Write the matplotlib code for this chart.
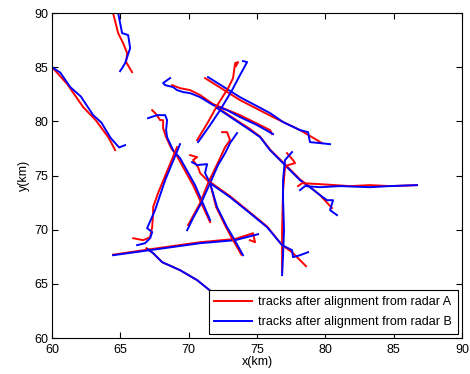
import matplotlib
matplotlib.use('Agg')
import matplotlib.pyplot as plt

plt.rcParams['font.family'] = ['Liberation Sans', 'DejaVu Sans']

# tracks from radar A (red) / radar B (blue) in km
a1x = [64.46, 64.83, 65.19, 65.49, 65.41, 65.85]
a1y = [90.0, 88.15, 87.23, 86.31, 85.48, 84.55]
b1x = [64.83, 65.12, 65.56, 65.71, 65.49, 65.34, 65.12, 64.97]
b1y = [90.0, 88.15, 87.97, 86.77, 85.94, 85.38, 84.92, 84.64]

a2x = [60.0, 61.10, 62.27, 63.20, 64.10, 64.30, 64.61]
a2y = [85.0, 83.45, 81.32, 80.10, 78.55, 78.10, 77.35]
b2x = [60.0, 60.60, 61.32, 62.10, 63.0, 63.60, 64.24, 64.40, 64.75, 64.90, 65.34]
b2y = [85.0, 84.50, 83.17, 82.30, 80.58, 79.90, 78.55, 78.30, 77.81, 77.60, 77.81]

a3x = [68.78, 69.36, 70.10, 70.83, 71.78, 73.75, 75.95, 76.10]
a3y = [83.35, 83.07, 82.89, 82.43, 81.60, 80.58, 79.20, 78.83]
b3x = [68.63, 68.12, 68.27, 68.85, 69.14, 69.58, 70.10, 70.83, 71.78, 72.80, 73.75, 75.0, 76.17]
b3y = [84.0, 83.54, 83.35, 83.17, 82.89, 82.71, 82.61, 82.24, 81.51, 81.04, 80.40, 79.66, 78.83]

a4x = [71.19, 73.75, 76.17, 78.14, 79.02, 79.75]
a4y = [84.0, 81.97, 80.40, 79.20, 78.55, 78.0]
b4x = [71.41, 73.75, 75.95, 76.90, 78.14, 78.73, 78.87, 79.61, 80.34]
b4y = [84.09, 82.24, 80.77, 79.94, 79.20, 79.01, 78.09, 78.0, 77.90]

a5x = [70.61, 71.41, 72.14, 72.88, 73.24, 73.32, 73.39, 73.61, 73.45]
a5y = [78.27, 79.94, 81.60, 83.07, 84.0, 84.74, 85.38, 85.48, 85.10]
b5x = [70.68, 71.56, 72.29, 73.17, 73.75, 74.27, 73.97]
b5y = [78.09, 79.66, 81.04, 82.89, 84.28, 85.48, 85.57]

a6x = [72.0, 73.39, 74.48, 75.22, 75.95, 77.04, 78.14, 78.87, 79.61, 80.48]
a6y = [81.35, 80.20, 79.30, 78.60, 77.40, 76.05, 74.65, 73.95, 73.20, 72.0]
b6x = [72.07, 73.39, 74.48, 75.22, 75.95, 77.04, 78.14, 78.87, 79.61, 80.12, 80.56, 80.34, 80.85]
b6y = [81.23, 80.12, 79.20, 78.55, 77.35, 75.97, 74.58, 73.93, 73.19, 72.73, 72.73, 71.81, 71.35]

a7x = [77.19, 77.63, 77.78, 77.26, 77.04, 76.90, 76.83, 76.83]
a7y = [77.07, 76.43, 76.15, 75.97, 75.69, 73.66, 69.96, 66.09]
b7x = [77.56, 77.04, 76.90, 76.90, 76.97, 76.90, 76.83]
b7y = [77.17, 76.43, 74.58, 72.73, 69.96, 67.65, 65.81]

a8x = [78.0, 78.29, 79.61, 81.80, 83.26, 84.73, 86.70]
a8y = [74.03, 74.30, 74.21, 74.03, 74.12, 74.03, 74.12]
b8x = [78.14, 78.51, 79.61, 81.07, 83.26, 84.73, 86.70]
b8y = [73.66, 74.03, 73.93, 74.03, 73.93, 74.03, 74.12]

a9x = [67.32, 67.61, 67.90, 68.12, 68.12, 68.34, 68.71, 69.14, 70.31, 71.56]
a9y = [81.04, 80.67, 80.12, 80.12, 79.38, 78.55, 77.53, 76.80, 74.12, 70.70]
b9x = [67.02, 67.68, 68.27, 68.41, 68.34, 68.41, 68.85, 69.36, 70.46, 71.56]
b9y = [80.30, 80.58, 80.58, 80.12, 79.20, 78.55, 77.35, 76.61, 74.12, 70.89]

a10x = [65.93, 66.66, 67.17, 67.32, 67.39, 67.39, 67.75, 68.05, 69.14]
a10y = [69.22, 69.04, 69.31, 70.24, 71.53, 72.09, 73.38, 74.30, 77.63]
b10x = [66.22, 66.80, 67.17, 67.32, 66.95, 67.53, 68.27, 69.36]
b10y = [68.58, 68.76, 69.22, 69.78, 70.15, 71.81, 74.58, 77.90]

a11x = [64.46, 67.17, 70.83, 73.39, 74.26, 74.70, 74.85, 74.48]
a11y = [67.70, 68.20, 68.85, 69.15, 69.50, 69.68, 68.85, 69.04]
b11x = [64.46, 67.17, 70.83, 73.39, 75.07]
b11y = [67.65, 68.12, 68.76, 69.04, 69.59]

a12x = [66.9, 67.39, 68.05, 69.36, 70.61, 71.70]
a12y = [68.30, 67.84, 67.01, 66.27, 65.35, 64.24]
b12x = [67.0, 67.39, 68.05, 69.36, 70.61, 71.70]
b12y = [68.20, 67.84, 67.01, 66.27, 65.35, 64.24]

a13x = [72.44, 72.80, 73.02, 72.66, 72.29, 71.41, 70.83, 69.95]
a13y = [79.01, 79.01, 78.27, 77.63, 76.61, 74.30, 72.46, 70.43]
b13x = [73.53, 73.02, 72.66, 72.14, 71.56, 70.83, 70.31, 69.88]
b13y = [78.92, 78.0, 77.07, 75.97, 74.30, 72.27, 71.07, 69.96]

a14x = [70.10, 70.61, 70.31, 70.68, 70.83, 71.34, 71.56, 72.0, 72.70, 73.10, 73.85]
a14y = [76.89, 76.70, 76.43, 75.78, 75.23, 74.58, 74.30, 72.10, 70.30, 69.35, 67.70]
b14x = [70.24, 70.61, 71.34, 71.19, 71.56, 72.07, 72.80, 73.24, 73.97]
b14y = [76.24, 75.97, 76.06, 75.23, 74.30, 72.09, 70.24, 69.31, 67.65]

a15x = [71.56, 73.02, 74.48, 75.73, 76.83, 77.56, 78.58]
a15y = [74.40, 73.10, 71.60, 70.30, 68.58, 67.93, 66.64]
b15x = [71.56, 73.02, 74.48, 75.73, 76.83, 77.56, 77.63, 78.14, 78.73]
b15y = [74.30, 73.01, 71.53, 70.24, 68.58, 68.12, 67.47, 67.65, 67.93]

tracks_a = [(a1x, a1y), (a2x, a2y), (a3x, a3y), (a4x, a4y), (a5x, a5y),
            (a6x, a6y), (a7x, a7y), (a8x, a8y), (a9x, a9y), (a10x, a10y),
            (a11x, a11y), (a12x, a12y), (a13x, a13y), (a14x, a14y), (a15x, a15y)]
tracks_b = [(b1x, b1y), (b2x, b2y), (b3x, b3y), (b4x, b4y), (b5x, b5y),
            (b6x, b6y), (b7x, b7y), (b8x, b8y), (b9x, b9y), (b10x, b10y),
            (b11x, b11y), (b12x, b12y), (b13x, b13y), (b14x, b14y), (b15x, b15y)]

fig = plt.figure(figsize=(4.7, 3.74), dpi=100)
ax = fig.add_axes([0.111, 0.096, 0.872, 0.869])

for i, ((ax_, ay_), (bx_, by_)) in enumerate(zip(tracks_a, tracks_b)):
    ax.plot(ax_, ay_, color='red', lw=1.4,
            label='tracks after alignment from radar A' if i == 0 else None)
    ax.plot(bx_, by_, color='blue', lw=1.4,
            label='tracks after alignment from radar B' if i == 0 else None)

ax.set_xlim(60, 90)
ax.set_ylim(60, 90)
ax.set_xticks(range(60, 91, 5))
ax.set_yticks(range(60, 91, 5))
ax.tick_params(direction='in', top=True, right=True, labelsize=9, length=4, width=0.8)
ax.tick_params(axis='x', pad=4)
ax.tick_params(axis='y', pad=3)
ax.set_xlabel('x(km)', fontsize=9, labelpad=0)
ax.set_ylabel('y(km)', fontsize=9, labelpad=3)
for s in ax.spines.values():
    s.set_linewidth(0.8)

leg = ax.legend(loc='lower right', fontsize=9, fancybox=False, edgecolor='black',
                framealpha=1, borderaxespad=0.35, handlelength=3.0, handletextpad=0.5,
                labelspacing=0.65, borderpad=0.45)
leg.get_frame().set_linewidth(0.8)

fig.savefig('out.png', dpi=100)
